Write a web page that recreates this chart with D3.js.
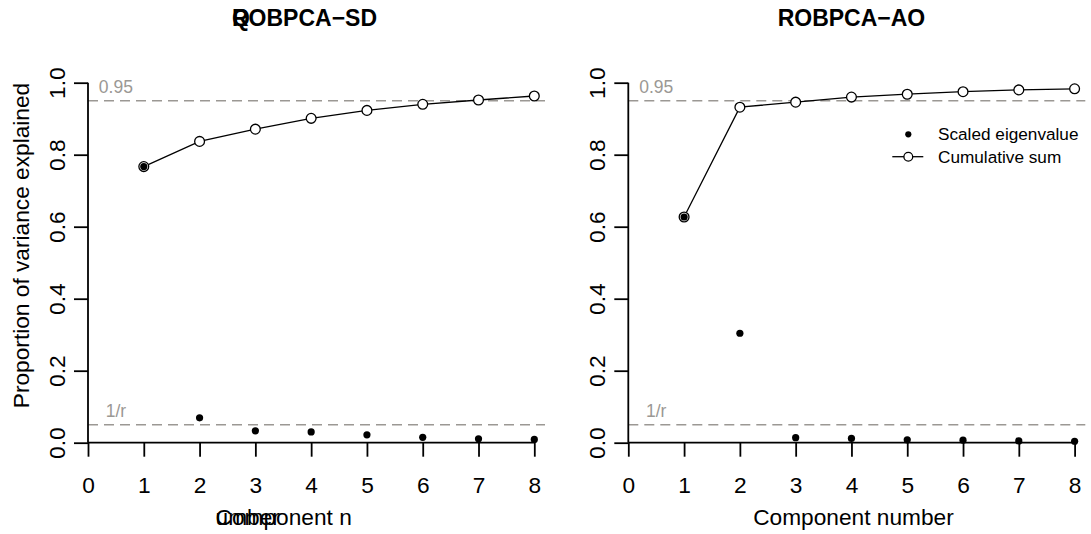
<!DOCTYPE html>
<html>
<head>
<meta charset="utf-8">
<script src="https://cdn.jsdelivr.net/npm/d3@7"></script>
<style>
  body { margin: 0; background: #fff; }
  text { font-family: "Liberation Sans", Arial, sans-serif; }
</style>
</head>
<body>
<script>
// values
let components = [1, 2, 3, 4, 5, 6, 7, 8]
let xTicks = [0, 1, 2, 3, 4, 5, 6, 7, 8]
let yTicks = [0, 0.2, 0.4, 0.6, 0.8, 1.0]
let sdEigen = [0.767, 0.069, 0.033, 0.030, 0.022, 0.015, 0.011, 0.009]
let sdCumsum = [0.767, 0.837, 0.871, 0.901, 0.923, 0.940, 0.952, 0.963]
let aoEigen = [0.627, 0.304, 0.014, 0.012, 0.008, 0.007, 0.005, 0.004]
let aoCumsum = [0.627, 0.932, 0.946, 0.960, 0.968, 0.975, 0.980, 0.983]
let refValues = [0.95, 0.05]
let refLabels = ['0.95', '1/r']
let legendLabels = ['Scaled eigenvalue', 'Cumulative sum']

let W = 1091, H = 534
let FS = 22.7
let GREY = '#9b9894'

let svg = d3.select('body').append('svg')
  .attr('width', W).attr('height', H)

let y = d3.scaleLinear().domain([0, 1]).range([442.7, 82.7])

function panel(offset, title, eigen, cumsum, xlab, overTitle, overXlab, legend) {
  let x = d3.scaleLinear().domain([0, 8]).range([88 + offset, 534.3 + offset])
  let right = 545 + offset
  let g = svg.append('g')

  // reference lines (0.95 and 1/r), labels centred at x = 0.5
  refValues.forEach((v, i) => {
    g.append('line')
      .attr('x1', x(0)).attr('x2', right)
      .attr('y1', y(v)).attr('y2', y(v))
      .attr('stroke', GREY).attr('stroke-width', 1.4)
      .attr('stroke-dasharray', '10,6')
    g.append('text')
      .attr('x', x(0.5)).attr('y', y(v) - 8)
      .attr('text-anchor', 'middle')
      .attr('fill', GREY).attr('font-size', 17.5)
      .text(refLabels[i])
  })

  // axes, R style
  let xAxis = d3.axisBottom(x).tickValues(xTicks).tickSize(14).tickPadding(0)
  let ax = g.append('g').attr('transform', 'translate(0,' + y(0) + ')').call(xAxis)
  ax.select('.domain').attr('d', 'M' + x(0) + ',0H' + x(8))
  let yAxis = d3.axisLeft(y).tickValues(yTicks).tickSize(14).tickFormat(d3.format('.1f'))
  let ay = g.append('g').attr('transform', 'translate(' + x(0) + ',0)').call(yAxis)
  ay.select('.domain').attr('d', 'M0,' + y(0) + 'V' + y(1))
  ;[ax, ay].forEach(a => {
    a.selectAll('.domain, line').attr('stroke', '#000').attr('stroke-width', 1.8)
    a.selectAll('text').attr('font-size', FS).attr('fill', '#000')
      .style('font-family', '"Liberation Sans", Arial, sans-serif')
  })
  ax.selectAll('.tick text').attr('dy', null).attr('y', 50.5)
  ay.selectAll('.tick text')
    .attr('x', null).attr('dy', null)
    .attr('text-anchor', 'middle')
    .attr('transform', 'translate(-23,0) rotate(-90)')

  // cumulative line + open circles, then eigenvalue dots on top
  let pts = components.map((c, i) => [c, cumsum[i]])
  g.append('path')
    .attr('d', d3.line().x(d => x(d[0])).y(d => y(d[1]))(pts))
    .attr('fill', 'none').attr('stroke', '#000').attr('stroke-width', 1.3)
  g.selectAll('.cum').data(pts).enter().append('circle')
    .attr('class', 'cum')
    .attr('cx', d => x(d[0])).attr('cy', d => y(d[1])).attr('r', 4.9)
    .attr('fill', '#fff').attr('stroke', '#000').attr('stroke-width', 1.3)
  g.selectAll('.eig').data(components.map((c, i) => [c, eigen[i]])).enter().append('circle')
    .attr('class', 'eig')
    .attr('cx', d => x(d[0])).attr('cy', d => y(d[1])).attr('r', 3.6)
    .attr('fill', '#000')

  // titles (left panel has overprinted text in the original)
  let cx = (x(0) + x(8)) / 2
  if (overTitle) {
    g.append('text').attr('x', 232).attr('y', 25.5)
      .attr('font-weight', 'bold').attr('font-size', 23).text(title)
    g.append('text').attr('x', 232).attr('y', 25.5)
      .attr('font-weight', 'bold').attr('font-size', 23).text(overTitle)
  } else {
    g.append('text').attr('x', cx).attr('y', 25.5)
      .attr('text-anchor', 'middle').attr('font-weight', 'bold').attr('font-size', 23)
      .text(title)
  }
  if (overXlab) {
    g.append('text').attr('x', 215.6).attr('y', 524.5)
      .attr('font-size', FS).text(xlab)
    g.append('text').attr('x', 215.6).attr('y', 524.5)
      .attr('font-size', FS).text(overXlab)
  } else {
    g.append('text').attr('x', cx + 2).attr('y', 524.5)
      .attr('text-anchor', 'middle').attr('font-size', FS).text(xlab)
  }

  if (legend) {
    let lx = 908.3
    g.append('circle').attr('cx', lx).attr('cy', 134.3).attr('r', 3.1).attr('fill', '#000')
    g.append('line').attr('x1', lx - 16).attr('x2', lx + 15)
      .attr('y1', 156.7).attr('y2', 156.7).attr('stroke', '#000').attr('stroke-width', 1.3)
    g.append('circle').attr('cx', lx).attr('cy', 156.7).attr('r', 4.4)
      .attr('fill', '#fff').attr('stroke', '#000').attr('stroke-width', 1.3)
    legendLabels.forEach((l, i) => {
      g.append('text').attr('x', 938).attr('y', 140.3 + i * 22.4)
        .attr('font-size', 17.2).text(l)
    })
  }
}

panel(0, 'ROBPCA\u2212SD', sdEigen, sdCumsum, 'Component n', 'Q', 'umber', false)
panel(540.3, 'ROBPCA\u2212AO', aoEigen, aoCumsum, 'Component number', null, null, true)

// y axis title (left panel only)
svg.append('text')
  .attr('transform', 'translate(29,245.5) rotate(-90)')
  .attr('text-anchor', 'middle').attr('font-size', FS)
  .text('Proportion of variance explained')
</script>
</body>
</html>
